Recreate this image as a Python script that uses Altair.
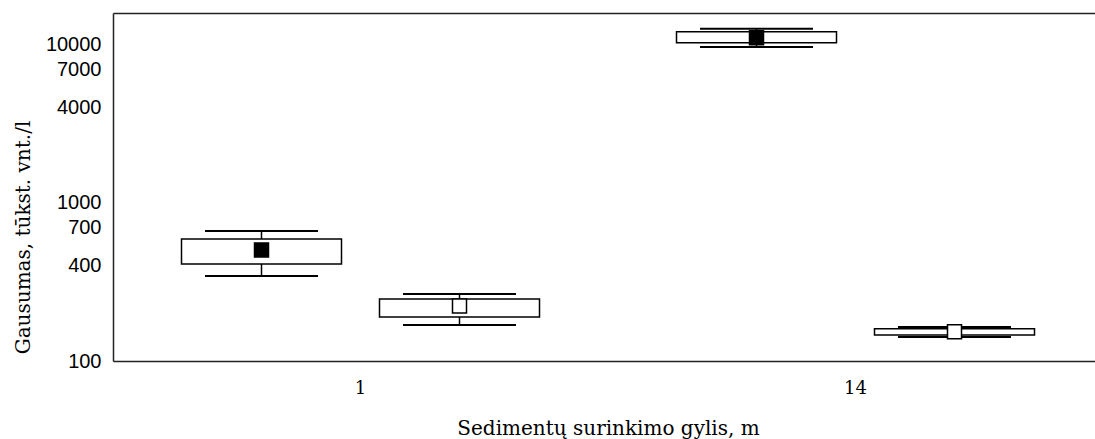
import altair as alt
import pandas as pd

depth = ["1", "1", "14", "14"]
group = ["A", "B", "A", "B"]
whisk_lo = [345, 169, 9700, 142]
box_lo = [411, 190, 10300, 146]
center = [504, 223, 11070, 153]
box_hi = [592, 247, 12090, 160]
whisk_hi = [665, 265, 12620, 164]
y_ticks = [100, 400, 700, 1000, 4000, 7000, 10000]

df = pd.DataFrame({
    "depth": depth, "group": group, "wlo": whisk_lo, "blo": box_lo,
    "c": center, "bhi": box_hi, "whi": whisk_hi,
})

xscale = alt.Scale(range=[0, 990], paddingInner=0, paddingOuter=0)
xoff = alt.XOffset("group:N", scale=alt.Scale(paddingOuter=0.25, paddingInner=0))
yscale = alt.Scale(type="log", domain=[100, 15900], nice=False)

bottom_axis = alt.Axis(
    orient="bottom", labelFont="DejaVu Serif", labelFontSize=18, labelColor="#000",
    labelAngle=0, ticks=False, tickSize=0, labelPadding=18,
    domainColor="#222", domainWidth=1.5,
    title="Sedimentų surinkimo gylis, m", titleFont="DejaVu Serif", titleFontSize=20,
    titleFontWeight="normal", titleColor="#000", titleY=73, titleBaseline="alphabetic",
)
top_axis = alt.Axis(
    orient="top", labels=False, ticks=False, tickSize=0, domainColor="#222",
    domainWidth=1.5, title=None,
)
left_axis = alt.Axis(
    orient="left", values=y_ticks, format="d", labelFont="Liberation Sans", labelFontSize=20,
    labelColor="#000", ticks=False, tickSize=0, labelPadding=12, grid=False,
    domainColor="#222", domainWidth=1.5,
    title="Gausumas, tūkst. vnt./l", titleFont="DejaVu Serif", titleFontSize=20,
    titleFontWeight="normal", titleColor="#000", titleAngle=-90, titleX=-90, titleY=224,
    titleAlign="center", titleBaseline="middle",
)

base = alt.Chart(df)


def xenc(axis):
    return alt.X("depth:N", scale=xscale, axis=axis, sort=["1", "14"])


def yenc(field, axis=None):
    if axis is None:
        return alt.Y(field, scale=yscale)
    return alt.Y(field, scale=yscale, axis=axis)


boxes = base.mark_bar(size=160, fill="white", stroke="black", strokeWidth=1.5).encode(
    x=xenc(bottom_axis), xOffset=xoff, y=yenc("blo:Q", left_axis), y2="bhi:Q",
)
rule_lo = base.mark_rule(color="black", strokeWidth=1.5).encode(
    x=xenc(None), xOffset=xoff, y=yenc("wlo:Q"), y2="blo:Q",
)
rule_hi = base.mark_rule(color="black", strokeWidth=1.5).encode(
    x=xenc(None), xOffset=xoff, y=yenc("bhi:Q"), y2="whi:Q",
)
cap_lo = base.mark_tick(size=113, thickness=2, color="black", opacity=1).encode(
    x=xenc(top_axis), xOffset=xoff, y=yenc("wlo:Q"),
)
cap_hi = base.mark_tick(size=113, thickness=2, color="black", opacity=1).encode(
    x=xenc(None), xOffset=xoff, y=yenc("whi:Q"),
)
marks = base.mark_square(size=196, strokeWidth=1.5, stroke="black", opacity=1).encode(
    x=xenc(None), xOffset=xoff, y=yenc("c:Q"),
    fill=alt.Fill("group:N", scale=alt.Scale(domain=["A", "B"], range=["black", "white"]), legend=None),
)

chart = alt.layer(boxes, rule_lo, rule_hi, cap_lo, cap_hi, marks).resolve_axis(
    x="independent", y="shared"
).properties(
    width=982, height=348,
    autosize=alt.AutoSizeParams(type="none"),
    padding={"left": 113, "top": 13, "right": 0, "bottom": 78},
    background="white",
).configure_view(strokeWidth=0)

chart.save("out.html", embed_options={"renderer": "svg", "actions": False})
